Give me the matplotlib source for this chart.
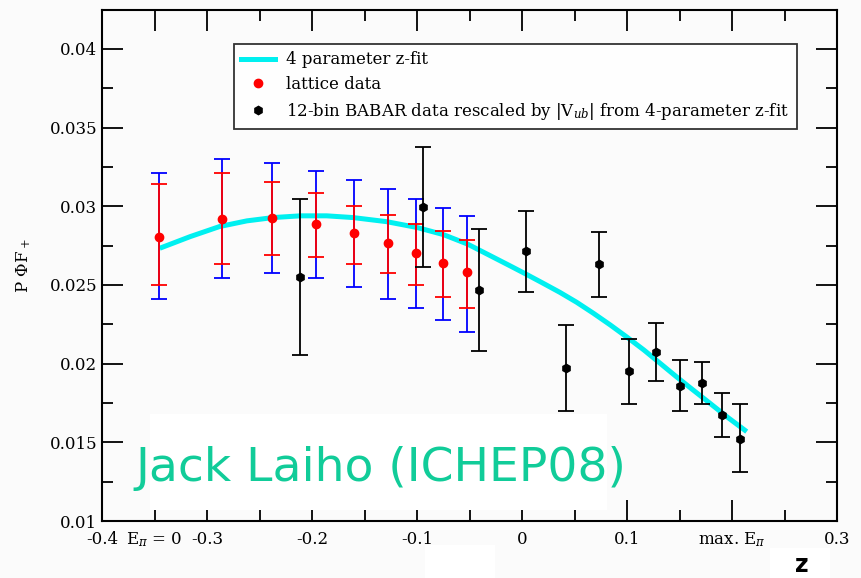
"""
Form factor P*Phi*F+ vs z: lattice data, BABAR 12-bin data and 4 parameter z-fit.
"""

import numpy as np
import matplotlib
matplotlib.use('Agg')
import matplotlib.pyplot as plt
from matplotlib.patches import Rectangle

# z-fit curve
fit_z = [-0.345, -0.316, -0.288, -0.262, -0.237, -0.211, -0.186, -0.161, -0.129,
         -0.100, -0.075, -0.052, -0.030, -0.011, 0.004, 0.020, 0.036, 0.052,
         0.068, 0.084, 0.100, 0.116, 0.131, 0.147, 0.163, 0.179, 0.196, 0.214]
fit_v = [0.02733, 0.02807, 0.02871, 0.02907, 0.02928, 0.02939, 0.02939, 0.02928,
         0.02902, 0.02865, 0.02820, 0.02760, 0.02685, 0.02620, 0.02568, 0.02511,
         0.02453, 0.02390, 0.02320, 0.02246, 0.02168, 0.02087, 0.02005, 0.01917,
         0.01832, 0.01748, 0.01658, 0.01568]

# lattice data: central value, red (stat) band, blue (total) band
lat_z = [-0.346, -0.286, -0.238, -0.196, -0.160, -0.128, -0.101, -0.075, -0.052]
lat_v = [0.02807, 0.02920, 0.02928, 0.02886, 0.02829, 0.02765, 0.02702, 0.02642, 0.02581]
lat_red_hi = [0.03140, 0.03212, 0.03153, 0.03083, 0.03004, 0.02945, 0.02886, 0.02843, 0.02786]
lat_red_lo = [0.02500, 0.02633, 0.02693, 0.02680, 0.02633, 0.02574, 0.02500, 0.02426, 0.02352]
lat_blue_hi = [0.03210, 0.03301, 0.03274, 0.03227, 0.03167, 0.03108, 0.03047, 0.02988, 0.02940]
lat_blue_lo = [0.02411, 0.02546, 0.02574, 0.02546, 0.02485, 0.02411, 0.02352, 0.02278, 0.02203]

# BABAR 12-bin data
bab_z = [-0.211, -0.094, -0.041, 0.004, 0.042, 0.073, 0.102, 0.128, 0.150, 0.171, 0.190, 0.208]
bab_v = [0.02553, 0.02998, 0.02468, 0.02716, 0.01971, 0.02632, 0.01953, 0.02076,
         0.01860, 0.01875, 0.01674, 0.01521]
bab_hi = [0.03047, 0.03375, 0.02854, 0.02972, 0.02246, 0.02839, 0.02157, 0.02260,
          0.02023, 0.02009, 0.01815, 0.01744]
bab_lo = [0.02055, 0.02616, 0.02082, 0.02454, 0.01699, 0.02426, 0.01742, 0.01892,
          0.01699, 0.01744, 0.01536, 0.01311]

x_ticks = [-0.4, -0.35, -0.3, -0.2, -0.1, 0.0, 0.1, 0.2, 0.3]
x_labels = ['-0.4', r'E$_\pi$ = 0', '-0.3', '-0.2', '-0.1', '0', '0.1', r'max. E$_\pi$', '0.3']
y_ticks = [0.01, 0.015, 0.02, 0.025, 0.03, 0.035, 0.04]
y_labels = ['0.01', '0.015', '0.02', '0.025', '0.03', '0.035', '0.04']

plt.rcParams['font.family'] = 'DejaVu Serif'
plt.rcParams['mathtext.fontset'] = 'dejavuserif'

W, H = 862, 578
bg = '#fbfbfb'
fig = plt.figure(figsize=(W / 100, H / 100), dpi=100, facecolor=bg)
ax = fig.add_axes([102 / W, 1 - 521 / H, 735 / W, 511.5 / H], facecolor=bg)


def asym(v, lo, hi):
    v, lo, hi = np.array(v), np.array(lo), np.array(hi)
    return [v - lo, hi - v]


ax.plot(fit_z, fit_v, color='#00f0f0', lw=3.6, solid_capstyle='butt',
        solid_joinstyle='round', zorder=1)

ax.errorbar(lat_z, lat_v, yerr=asym(lat_v, lat_blue_lo, lat_blue_hi), fmt='none',
            ecolor='#0000ff', elinewidth=1.3, capsize=5.5, capthick=1.3, zorder=2)
ax.errorbar(lat_z, lat_v, yerr=asym(lat_v, lat_red_lo, lat_red_hi), fmt='o',
            color='#ff0000', ms=6, ecolor='#ff0000', elinewidth=1.3, capsize=5.5,
            capthick=1.3, zorder=3)
ax.errorbar(bab_z, bab_v, yerr=asym(bab_v, bab_lo, bab_hi), fmt='h',
            color='black', ms=6, ecolor='black', elinewidth=1.3, capsize=5.5,
            capthick=1.3, zorder=4)

# legend entries
h_fit = plt.Line2D([], [], color='#00f0f0', lw=3.6)
h_lat = plt.Line2D([], [], color='#ff0000', marker='o', ms=6, ls='none')
h_bab = plt.Line2D([], [], color='black', marker='h', ms=6, ls='none')
leg = ax.legend([h_fit, h_lat, h_bab],
                ['4 parameter z-fit', 'lattice data',
                 r'12-bin BABAR data rescaled by |V$_{ub}$| from 4-parameter z-fit'],
                loc='upper left', bbox_to_anchor=(132 / 735, (521 - 44) / 511.5),
                borderaxespad=0, fontsize=12, frameon=True, fancybox=False,
                handlelength=2.0, handletextpad=0.7, labelspacing=0.45,
                borderpad=0.45)
leg.get_frame().set_edgecolor('black')
leg.get_frame().set_linewidth(1.3)
leg.get_frame().set_facecolor('white')

ax.set_xlim(-0.4, 0.3)
ax.set_ylim(0.01, 0.0425)
ax.set_xticks(x_ticks)
ax.set_xticklabels(x_labels)
ax.set_xticks([-0.25, -0.15, -0.05, 0.05, 0.15, 0.25], minor=True)
ax.set_yticks(y_ticks)
ax.set_yticklabels(y_labels)
ax.set_yticks(np.arange(0.0125, 0.0425, 0.005), minor=True)
ax.tick_params(which='both', direction='in', top=True, right=True, labelsize=12,
               width=1.3, color='black')
ax.tick_params(which='major', length=15)
ax.tick_params(which='minor', length=8)
ax.tick_params(axis='x', pad=7)
for s in ax.spines.values():
    s.set_linewidth(1.5)

ax.set_ylabel(r'P $\Phi$F$_+$', fontsize=12, labelpad=12)

# overlay: white boxes and the author note
fig.patches.append(Rectangle((150 / W, 1 - 510 / H), 457 / W, 96 / H,
                             transform=fig.transFigure, facecolor='white',
                             edgecolor='none', zorder=5))
fig.patches.append(Rectangle((425 / W, 0), 70 / W, 33 / H,
                             transform=fig.transFigure, facecolor='white',
                             edgecolor='none', zorder=5))
fig.patches.append(Rectangle((770 / W, 0), 60 / W, 30 / H,
                             transform=fig.transFigure, facecolor='white',
                             edgecolor='none', zorder=5))
fig.text(135 / W, 1 - 481 / H, 'Jack Laiho (ICHEP08)', color='#11cc99',
         fontsize=34, family='DejaVu Sans', va='baseline', ha='left', zorder=6)
fig.text(802 / W, 1 - 572 / H, 'z', fontsize=17, family='DejaVu Sans',
         weight='bold', va='baseline', ha='center', zorder=6)

fig.savefig('out.png', dpi=100, facecolor=bg)
